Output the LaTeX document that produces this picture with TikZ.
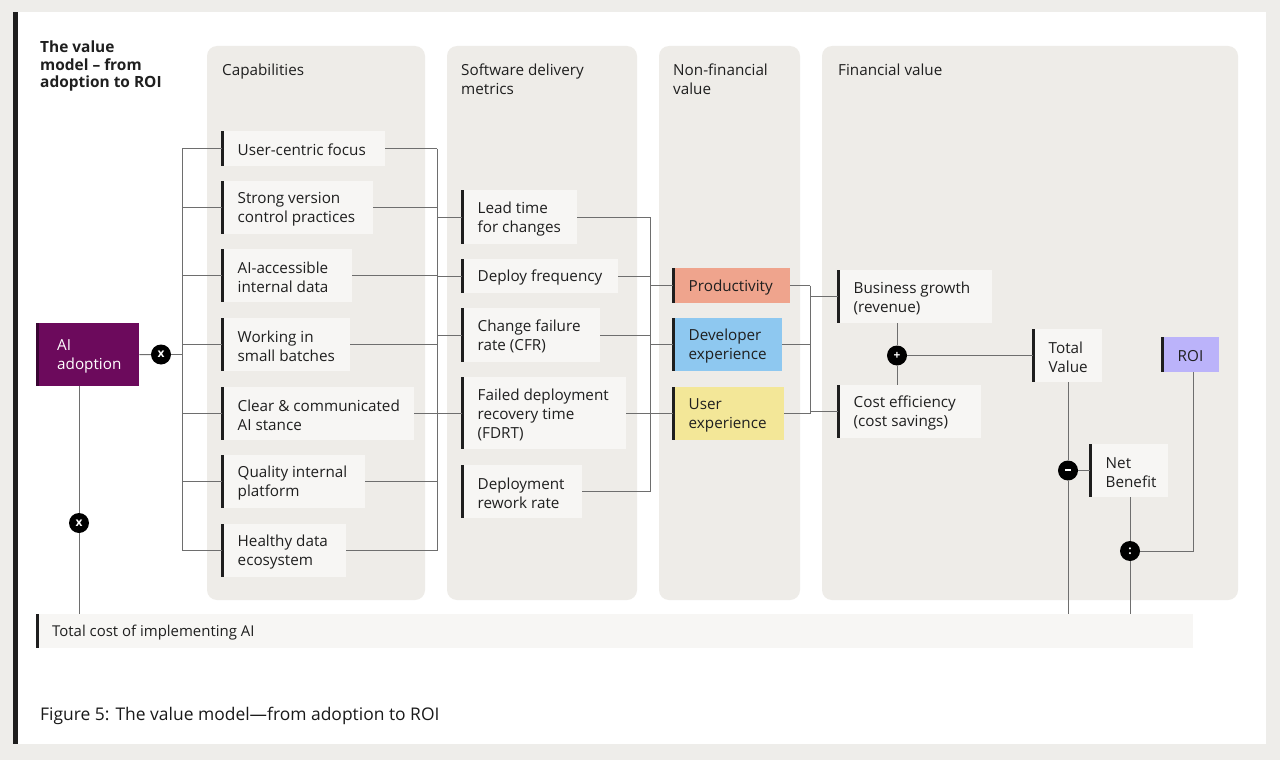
\documentclass[tikz,border=0pt]{standalone}
\usepackage{fontspec}
\setmainfont{Open Sans}
\usetikzlibrary{calc}
\definecolor{bgc}{HTML}{EEEDEA}
\definecolor{panelc}{HTML}{EEECE8}
\definecolor{boxc}{HTML}{F7F6F4}
\definecolor{linec}{HTML}{6E6E6E}
\definecolor{barc}{HTML}{1E1E1E}
\definecolor{aic}{HTML}{6C0A5C}
\definecolor{aibar}{HTML}{3A0533}
\definecolor{prodc}{HTML}{EFA48D}
\definecolor{devc}{HTML}{8EC8F0}
\definecolor{uxc}{HTML}{F3E798}
\definecolor{roic}{HTML}{BBB3FA}
\newcommand\mkbox[7][boxc]{%
  \node[box, fill=#1, minimum width=#5bp, minimum height=#6bp,
        label={[txt]west:{#7}}] (#2) at (#3,#4) {};
  \draw[lbar] (#2.north west) -- (#2.south west);}
\begin{document}
\begin{tikzpicture}[x=1bp,y=-1bp,
  font=\fontsize{15.3}{19}\selectfont,
  box/.style={draw=none, anchor=north west, inner sep=0pt, rectangle},
  txt/.style={anchor=west, xshift=15.5bp, yshift=-1.5bp, align=left, inner sep=0pt, text=black!88},
  lbar/.style={line width=3bp, barc, xshift=1.5bp},
  conn/.style={draw=linec, line width=1bp},
  op/.style={circle, fill=black, text=white, inner sep=0pt, minimum size=20bp,
             font=\fontsize{12}{12}\selectfont\bfseries},
  head/.style={anchor=north west, align=left, inner sep=0pt, text=black!88},
  panel/.style={fill=panelc, rounded corners=10bp}
]
\useasboundingbox (0,0) rectangle (1280,760);
\fill[bgc] (0,0) rectangle (1280,760);
\fill[white] (14,12) rectangle (1266,744);
\fill[barc] (13,12) rectangle (18,744);

% title
\node[head, font=\fontsize{15.5}{17.5}\selectfont\bfseries] (title) at (40,41)
  {The value\\model -- from\\adoption to ROI};

% panels
\fill[panel] (207,46) rectangle (425,600);
\fill[panel] (447,46) rectangle (637,600);
\fill[panel] (659,46) rectangle (800,600);
\fill[panel] (822,46) rectangle (1238,600);
\node[head] (h1) at (222,63.5) {Capabilities};
\node[head] (h2) at (461,63.5) {Software delivery\\metrics};
\node[head] (h3) at (673,63.5) {Non-financial\\value};
\node[head] (h4) at (838,63.5) {Financial value};

% AI adoption
\node[box, fill=aic, minimum width=102bp, minimum height=63bp,
      label={[txt, xshift=4.5bp, text=white]west:{AI\\adoption}}] (ai) at (37,323) {};
\draw[line width=3bp, aibar, xshift=1.5bp] (ai.north west) -- (ai.south west);

% capabilities
\mkbox{cap1}{222}{131}{163}{35}{User-centric focus}
\mkbox{cap2}{222}{181}{151}{53}{Strong version\\control practices}
\mkbox{cap3}{222}{249}{130}{53}{AI-accessible\\internal data}
\mkbox{cap4}{222}{318}{128}{53}{Working in\\small batches}
\mkbox{cap5}{222}{387}{192}{53}{Clear \& communicated\\AI stance}
\mkbox{cap6}{222}{455}{143}{53}{Quality internal\\platform}
\mkbox{cap7}{222}{524}{124}{53}{Healthy data\\ecosystem}

% metrics
\mkbox{met1}{462}{190}{115}{54}{Lead time\\for changes}
\mkbox{met2}{462}{259}{156}{34}{Deploy frequency}
\mkbox{met3}{462}{308}{138}{54}{Change failure\\rate (CFR)}
\mkbox{met4}{462}{377}{164}{72}{Failed deployment\\recovery time\\(FDRT)}
\mkbox{met5}{462}{465}{120}{53}{Deployment\\rework rate}

% non-financial
\mkbox[prodc]{nf1}{673}{268}{117}{35}{Productivity}
\mkbox[devc]{nf2}{673}{318}{109}{53}{Developer\\experience}
\mkbox[uxc]{nf3}{673}{387}{111}{53}{User\\experience}

% financial
\mkbox{fin1}{838}{270}{154}{53}{Business growth\\(revenue)}
\mkbox{fin2}{838}{385}{143}{53}{Cost efficiency\\(cost savings)}
\mkbox{tv}{1033}{329}{69}{53}{Total\\Value}
\mkbox{nb}{1090}{444}{78}{53}{Net\\Benefit}
\mkbox[roic]{roi}{1162}{337}{57}{35}{ROI}

% total cost
\node[box, fill=boxc, minimum width=1156bp, minimum height=34bp,
      label={[txt, xshift=-0.5bp, font=\fontsize{15}{18}\selectfont]west:{Total cost of implementing AI}}] (tc) at (37,614) {};
\draw[lbar] (tc.north west) -- (tc.south west);

% operators
\node[op] (opx1) at (161,354.5) {x};
\node[op] (opx2) at (79,523) {x};
\node[op] (opp) at (897,355.5) {+};
\node[op] (opm) at (1068,470.5) {\rule[0.3ex]{6bp}{2bp}};
\node[op] (opd) at (1130,551) {:};

% bus coordinates
\coordinate (busA) at (182,0);
\coordinate (busB) at (437,0);
\coordinate (busC) at (650,0);
\coordinate (busD) at (810,0);
\coordinate (roiin) at (1193,0);

% AI adoption links
\draw[conn] (ai.east) -- (opx1);
\draw[conn] (opx1) -- (opx1 -| busA);
\draw[conn] (opx2 |- ai.south) -- (opx2);
\draw[conn] (opx2) -- (opx2 |- tc.north);

% capabilities buses
\draw[conn] (cap1.west -| busA) -- (cap7.west -| busA);
\draw[conn] (cap1.east -| busB) -- (cap7.east -| busB);
\foreach \n in {cap1,cap2,cap3,cap4,cap5,cap6,cap7}{
  \draw[conn] (\n.west -| busA) -- (\n.west);
  \draw[conn] (\n.east) -- (\n.east -| busB);
}
\foreach \n in {met1,met2,met3,met4}{
  \draw[conn] (\n.west -| busB) -- (\n.west);
}
% metrics to non-financial
\draw[conn] (met1.east -| busC) -- (met5.east -| busC);
\foreach \n in {met1,met2,met3,met4,met5}{
  \draw[conn] (\n.east) -- (\n.east -| busC);
}
\foreach \n in {nf1,nf2,nf3}{
  \draw[conn] (\n.west -| busC) -- (\n.west);
  \draw[conn] (\n.east) -- (\n.east -| busD);
}
% non-financial to financial
\draw[conn] (nf1.east -| busD) -- (nf3.east -| busD);
\draw[conn] (fin1.west -| busD) -- (fin1.west);
\draw[conn] (fin2.west -| busD) -- (fin2.west);

% financial arithmetic
\draw[conn] (fin1.south -| opp) -- (opp);
\draw[conn] (opp) -- (fin2.north -| opp);
\draw[conn] (opp) -- (opp -| tv.west);
\draw[conn] (tv.south -| opm) -- (opm);
\draw[conn] (opm) -- (opm |- tc.north);
\draw[conn] (opm) -- (opm -| nb.west);
\draw[conn] (nb.south -| opd) -- (opd);
\draw[conn] (opd) -- (opd |- tc.north);
\draw[conn] (opd) -| (roiin |- roi.south);

% caption
\node[anchor=west, inner sep=0pt, font=\fontsize{17.5}{20}\selectfont, text=black!90] (cap) at (40,716)
  {Figure 5: The value model---from adoption to ROI};
\end{tikzpicture}
\end{document}
